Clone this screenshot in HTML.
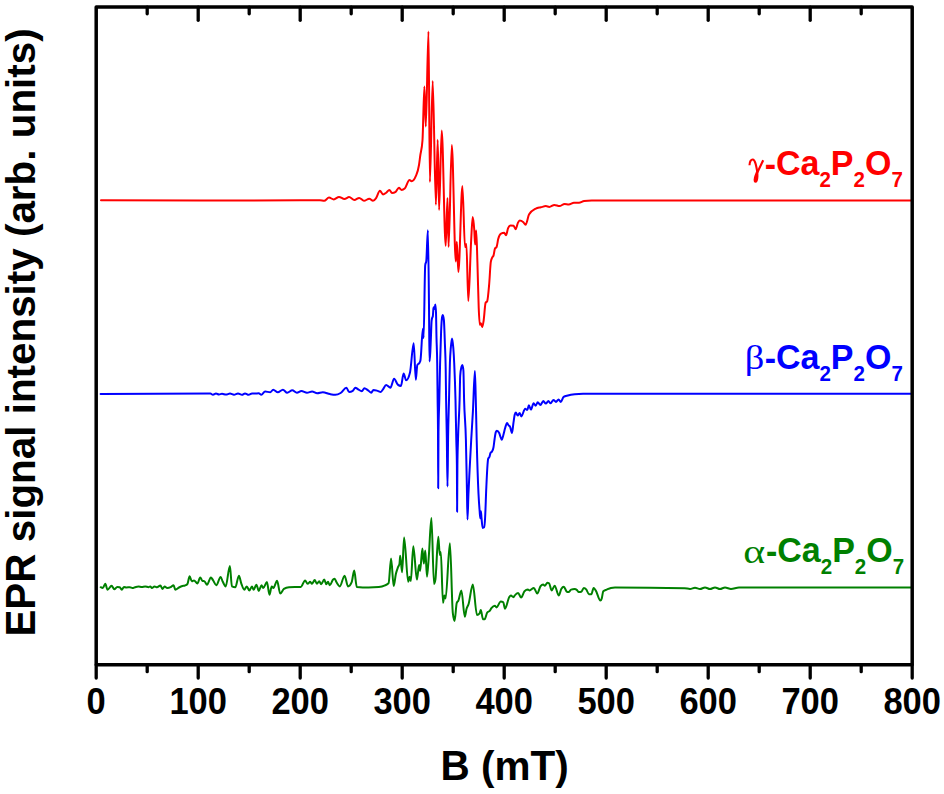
<!DOCTYPE html>
<html><head><meta charset="utf-8"><style>
html,body{margin:0;padding:0;background:#fff;}
body{width:944px;height:794px;overflow:hidden;font-family:"Liberation Sans",sans-serif;}
svg{display:block;}
</style></head><body>
<svg width="944" height="794" viewBox="0 0 944 794">
<rect width="944" height="794" fill="#fff"/>
<g fill="none" stroke-width="2.0" stroke-linejoin="round" stroke-linecap="round">
<path stroke="#ff0000" d="M101.00,200.30C134.00,200.40 167.00,200.50 200.00,200.50C233.33,200.50 266.67,200.30 300.00,200.30C306.67,200.30 313.33,200.30 320.00,200.30C321.40,200.30 322.80,200.80 324.20,200.80C325.80,200.80 327.40,197.60 329.00,197.60C330.60,197.60 332.20,199.40 333.80,199.40C335.53,199.40 337.27,196.90 339.00,196.90C340.80,196.90 342.60,199.00 344.40,199.00C345.97,199.00 347.53,197.10 349.10,197.10C350.87,197.10 352.63,200.00 354.40,200.00C356.00,200.00 357.60,197.90 359.20,197.90C360.80,197.90 362.40,200.80 364.00,200.80C365.77,200.80 367.53,198.70 369.30,198.70C370.53,198.70 371.77,200.80 373.00,200.80C374.03,200.80 375.07,199.50 376.10,198.10C377.37,196.38 378.63,190.70 379.90,190.70C380.93,190.70 381.97,194.40 383.00,194.40C384.07,194.40 385.13,193.55 386.20,192.80C387.27,192.05 388.33,189.90 389.40,189.90C390.27,189.90 391.13,193.00 392.00,193.00C393.23,193.00 394.47,192.60 395.70,191.80C396.77,191.11 397.83,187.80 398.90,187.80C399.80,187.80 400.70,189.90 401.60,189.90C402.63,189.90 403.67,189.47 404.70,188.60C406.30,187.26 407.90,180.10 409.50,180.10C410.20,180.10 410.90,181.20 411.60,181.20C413.03,181.20 414.47,179.43 415.90,175.90C416.93,173.35 417.97,171.60 419.00,165.00C419.40,162.44 419.80,158.91 420.20,156.00C420.97,150.42 421.73,150.73 422.50,140.20C423.13,131.50 423.77,86.50 424.40,86.50C424.87,86.50 425.33,126.50 425.80,126.50C426.70,126.50 427.60,31.40 428.50,31.40C428.97,31.40 429.43,182.00 429.90,182.00C430.83,182.00 431.77,81.00 432.70,81.00C433.77,81.00 434.83,204.70 435.90,204.70C436.50,204.70 437.10,139.80 437.70,139.80C438.17,139.80 438.63,210.00 439.10,210.00C439.97,210.00 440.83,130.60 441.70,130.60C443.03,130.60 444.37,245.70 445.70,245.70C446.30,245.70 446.90,198.00 447.50,198.00C447.87,198.00 448.23,247.00 448.60,247.00C449.67,247.00 450.73,145.10 451.80,145.10C453.13,145.10 454.47,261.50 455.80,261.50C456.13,261.50 456.47,241.70 456.80,241.70C457.33,241.70 457.87,272.00 458.40,272.00C459.73,272.00 461.07,186.10 462.40,186.10C463.27,186.10 464.13,247.00 465.00,247.00C465.47,247.00 465.93,244.00 466.40,244.00C467.03,244.00 467.67,301.00 468.30,301.00C469.23,301.00 470.17,257.64 471.10,241.40C471.63,232.12 472.17,217.10 472.70,217.10C473.23,217.10 473.77,222.61 474.30,230.40C474.57,234.29 474.83,244.60 475.10,244.60C475.47,244.60 475.83,230.40 476.20,230.40C476.60,230.40 477.00,249.71 477.40,261.90C477.83,275.11 478.27,296.84 478.70,307.50C479.07,316.52 479.43,324.80 479.80,324.80C480.17,324.80 480.53,323.20 480.90,323.20C481.33,323.20 481.77,327.10 482.20,327.10C482.70,327.10 483.20,323.41 483.70,320.10C484.33,315.90 484.97,304.07 485.60,302.80C486.13,301.73 486.67,302.27 487.20,301.20C487.87,299.87 488.53,291.56 489.20,283.90C489.73,277.78 490.27,265.03 490.80,261.90C491.33,258.77 491.87,258.30 492.40,257.20C492.77,256.45 493.13,256.64 493.50,255.60C494.00,254.18 494.50,249.44 495.00,248.50C495.53,247.50 496.07,248.00 496.60,247.00C497.13,246.00 497.67,241.16 498.20,239.10C499.13,235.50 500.07,234.07 501.00,233.60C502.07,233.07 503.13,232.80 504.20,232.80C504.80,232.80 505.40,235.20 506.00,235.20C506.70,235.20 507.40,229.68 508.10,228.10C508.90,226.30 509.70,225.40 510.50,225.40C511.53,225.40 512.57,225.50 513.60,225.70C514.27,225.83 514.93,229.20 515.60,229.20C516.40,229.20 517.20,224.09 518.00,222.60C518.57,221.54 519.13,220.50 519.70,220.50C520.83,220.50 521.97,220.97 523.10,221.90C523.93,222.58 524.77,224.70 525.60,224.70C526.73,224.70 527.87,216.60 529.00,214.60C531.27,210.60 533.53,209.78 535.80,208.60C537.47,207.73 539.13,207.71 540.80,207.30C542.50,206.88 544.20,206.10 545.90,206.10C547.03,206.10 548.17,206.90 549.30,206.90C551.00,206.90 552.70,204.90 554.40,204.90C556.10,204.90 557.80,206.10 559.50,206.10C561.20,206.10 562.90,203.90 564.60,203.90C566.00,203.90 567.40,204.40 568.80,204.40C570.50,204.40 572.20,202.70 573.90,202.70C575.60,202.70 577.30,202.70 579.00,202.70C580.70,202.70 582.40,201.22 584.10,201.00C586.63,200.67 589.17,200.50 591.70,200.50C698.13,200.50 804.57,200.50 911.00,200.50"/>
<path stroke="#0000ff" d="M100.60,394.10C137.20,393.85 173.80,393.60 210.40,393.60C211.27,393.60 212.13,394.80 213.00,394.80C214.00,394.80 215.00,393.50 216.00,393.50C217.00,393.50 218.00,394.50 219.00,394.50C220.00,394.50 221.00,393.80 222.00,393.80C223.33,393.80 224.67,394.60 226.00,394.60C227.33,394.60 228.67,393.60 230.00,393.60C231.33,393.60 232.67,394.70 234.00,394.70C235.33,394.70 236.67,393.50 238.00,393.50C239.33,393.50 240.67,394.80 242.00,394.80C243.00,394.80 244.00,393.40 245.00,393.40C246.20,393.40 247.40,394.80 248.60,394.80C249.73,394.80 250.87,393.50 252.00,393.50C253.00,393.50 254.00,393.60 255.00,393.60C256.23,393.60 257.47,393.30 258.70,393.30C259.57,393.30 260.43,394.80 261.30,394.80C262.57,394.80 263.83,391.50 265.10,391.50C266.80,391.50 268.50,392.30 270.20,392.30C271.20,392.30 272.20,389.70 273.20,389.70C274.73,389.70 276.27,392.30 277.80,392.30C279.50,392.30 281.20,389.70 282.90,389.70C284.33,389.70 285.77,392.80 287.20,392.80C288.90,392.80 290.60,390.30 292.30,390.30C293.83,390.30 295.37,392.80 296.90,392.80C298.40,392.80 299.90,391.00 301.40,391.00C303.27,391.00 305.13,392.80 307.00,392.80C308.70,392.80 310.40,391.50 312.10,391.50C313.80,391.50 315.50,393.30 317.20,393.30C319.07,393.30 320.93,392.30 322.80,392.30C325.17,392.30 327.53,393.67 329.90,394.10C331.70,394.43 333.50,394.80 335.30,394.80C337.07,394.80 338.83,394.08 340.60,393.00C342.53,391.81 344.47,387.70 346.40,387.70C347.30,387.70 348.20,392.00 349.10,392.00C350.33,392.00 351.57,391.63 352.80,390.90C353.67,390.38 354.53,387.70 355.40,387.70C356.30,387.70 357.20,388.80 358.10,389.30C359.33,389.99 360.57,391.20 361.80,391.20C362.67,391.20 363.53,388.30 364.40,388.30C365.63,388.30 366.87,389.60 368.10,390.40C369.17,391.09 370.23,392.70 371.30,392.70C372.00,392.70 372.70,389.90 373.40,389.90C374.83,389.90 376.27,390.46 377.70,390.90C378.73,391.21 379.77,392.00 380.80,392.00C381.53,392.00 382.27,390.26 383.00,389.30C384.03,387.95 385.07,384.90 386.10,384.90C387.53,384.90 388.97,387.70 390.40,387.70C391.63,387.70 392.87,378.70 394.10,378.70C395.33,378.70 396.57,383.60 397.80,384.60C398.87,385.47 399.93,385.90 401.00,385.90C401.87,385.90 402.73,373.40 403.60,373.40C404.43,373.40 405.27,380.30 406.10,380.30C407.40,380.30 408.70,377.67 410.00,372.40C411.23,367.40 412.47,343.20 413.70,343.20C414.40,343.20 415.10,379.80 415.80,379.80C416.30,379.80 416.80,366.15 417.30,365.10C418.03,363.57 418.77,364.33 419.50,362.80C419.83,362.10 420.17,361.87 420.50,360.00C421.30,355.52 422.10,328.80 422.90,328.80C423.13,328.80 423.37,337.90 423.60,337.90C424.13,337.90 424.67,269.66 425.20,265.30C425.57,262.30 425.93,263.80 426.30,260.80C426.83,256.44 427.37,230.20 427.90,230.20C428.27,230.20 428.63,270.26 429.00,306.10C429.17,322.39 429.33,361.50 429.50,361.50C429.77,361.50 430.03,356.96 430.30,352.00C430.50,348.28 430.70,342.56 430.90,337.80C431.13,332.24 431.37,323.33 431.60,321.00C431.83,318.67 432.07,318.29 432.30,317.50C432.47,316.94 432.63,317.13 432.80,316.40C433.03,315.37 433.27,308.67 433.50,308.00C433.73,307.33 433.97,307.00 434.20,307.00C434.33,307.00 434.47,309.00 434.60,309.00C434.83,309.00 435.07,304.40 435.30,304.40C435.53,304.40 435.77,307.13 436.00,312.60C436.17,316.50 436.33,330.40 436.50,337.80C436.73,348.16 436.97,346.95 437.20,363.00C437.33,372.17 437.47,386.50 437.60,398.00C437.73,409.50 437.87,409.33 438.00,432.00C438.07,443.33 438.13,488.20 438.20,488.20C438.30,488.20 438.40,440.00 438.50,432.00C438.77,410.67 439.03,411.50 439.30,400.00C439.57,388.50 439.83,373.59 440.10,363.00C440.43,349.77 440.77,339.18 441.10,331.50C441.40,324.59 441.70,319.62 442.00,317.60C442.27,315.80 442.53,314.90 442.80,314.90C443.17,314.90 443.53,316.67 443.90,320.20C444.23,323.41 444.57,334.62 444.90,344.00C445.17,351.51 445.43,352.84 445.70,369.30C445.83,377.53 445.97,390.93 446.10,400.00C446.33,415.88 446.57,422.58 446.80,437.00C447.03,451.42 447.27,486.50 447.50,486.50C447.70,486.50 447.90,450.19 448.10,437.00C448.40,417.22 448.70,412.33 449.00,400.00C449.30,387.67 449.60,371.68 449.90,363.00C450.20,354.32 450.50,351.79 450.80,347.90C451.20,342.71 451.60,338.40 452.00,338.40C452.43,338.40 452.87,342.31 453.30,347.90C453.60,351.77 453.90,356.53 454.20,363.00C454.63,372.34 455.07,381.89 455.50,400.00C455.77,411.15 456.03,427.68 456.30,440.00C456.50,449.24 456.70,448.67 456.90,466.00C456.97,471.78 457.03,511.80 457.10,511.80C457.20,511.80 457.30,474.67 457.40,466.00C457.60,448.67 457.80,447.67 458.00,440.00C458.53,419.56 459.07,419.41 459.60,400.00C459.80,392.72 460.00,378.31 460.20,375.60C460.63,369.73 461.07,368.54 461.50,366.80C461.80,365.59 462.10,364.90 462.40,364.90C462.73,364.90 463.07,366.77 463.40,370.50C463.63,373.11 463.87,391.47 464.10,400.00C464.70,421.94 465.30,416.72 465.90,440.00C466.23,452.93 466.57,471.06 466.90,488.00C467.10,498.16 467.30,519.50 467.50,519.50C467.80,519.50 468.10,502.35 468.40,495.00C468.80,485.21 469.20,477.98 469.60,470.00C470.13,459.37 470.67,449.47 471.20,440.00C471.77,429.94 472.33,422.00 472.90,411.60C473.57,399.36 474.23,371.00 474.90,371.00C475.20,371.00 475.50,388.50 475.80,400.00C476.10,411.50 476.40,428.12 476.70,440.00C477.30,463.76 477.90,481.23 478.50,493.80C478.90,502.18 479.30,506.91 479.70,511.80C479.90,514.24 480.10,518.30 480.30,518.30C480.50,518.30 480.70,511.20 480.90,511.20C481.10,511.20 481.30,515.77 481.50,517.80C481.90,521.86 482.30,527.90 482.70,527.90C483.20,527.90 483.70,527.70 484.20,527.30C484.50,527.06 484.80,522.82 485.10,517.80C485.50,511.10 485.90,496.60 486.30,487.80C486.70,479.00 487.10,470.07 487.50,465.00C487.73,462.04 487.97,459.34 488.20,458.70C488.57,457.70 488.93,458.07 489.30,457.20C489.70,456.25 490.10,453.80 490.50,453.00C491.00,452.00 491.50,452.45 492.00,451.50C492.50,450.55 493.00,450.07 493.50,447.30C493.87,445.27 494.23,441.44 494.60,439.00C495.00,436.34 495.40,433.29 495.80,432.20C496.17,431.20 496.53,430.70 496.90,430.70C497.67,430.70 498.43,431.47 499.20,433.00C499.70,434.00 500.20,436.26 500.70,437.50C501.07,438.41 501.43,439.80 501.80,439.80C502.30,439.80 502.80,436.93 503.30,435.20C503.93,433.01 504.57,429.72 505.20,427.70C505.83,425.68 506.47,423.10 507.10,423.10C507.60,423.10 508.10,424.77 508.60,425.40C509.10,426.03 509.60,425.91 510.10,426.90C510.73,428.15 511.37,433.00 512.00,433.00C512.50,433.00 513.00,425.73 513.50,422.40C513.90,419.74 514.30,416.40 514.70,414.80C515.07,413.33 515.43,412.60 515.80,412.60C516.43,412.60 517.07,415.60 517.70,415.60C518.33,415.60 518.97,413.00 519.60,413.00C520.17,413.00 520.73,416.40 521.30,416.40C522.60,416.40 523.90,408.70 525.20,408.70C525.87,408.70 526.53,410.10 527.20,410.10C527.77,410.10 528.33,405.30 528.90,405.30C529.57,405.30 530.23,409.60 530.90,409.60C531.80,409.60 532.70,403.30 533.60,403.30C534.30,403.30 535.00,405.70 535.70,405.70C536.37,405.70 537.03,402.30 537.70,402.30C538.60,402.30 539.50,405.00 540.40,405.00C541.37,405.00 542.33,401.10 543.30,401.10C544.13,401.10 544.97,403.60 545.80,403.60C546.67,403.60 547.53,401.10 548.40,401.10C549.13,401.10 549.87,403.30 550.60,403.30C551.57,403.30 552.53,399.90 553.50,399.90C554.33,399.90 555.17,401.90 556.00,401.90C556.87,401.90 557.73,399.40 558.60,399.40C559.33,399.40 560.07,401.90 560.80,401.90C561.73,401.90 562.67,397.51 563.60,396.90C565.03,395.97 566.47,395.88 567.90,395.50C570.17,394.89 572.43,394.57 574.70,394.30C577.50,393.97 580.30,393.80 583.10,393.80C692.40,393.73 801.70,393.72 911.00,393.70"/>
<path stroke="#008000" d="M100.70,587.20C101.40,587.60 102.10,588.00 102.80,588.00C103.63,588.00 104.47,583.80 105.30,583.80C106.03,583.80 106.77,589.70 107.50,589.70C108.87,589.70 110.23,585.80 111.60,585.80C112.50,585.80 113.40,589.20 114.30,589.20C115.27,589.20 116.23,586.90 117.20,586.90C118.03,586.90 118.87,587.00 119.70,587.20C120.40,587.37 121.10,589.70 121.80,589.70C122.53,589.70 123.27,586.90 124.00,586.90C124.83,586.90 125.67,587.50 126.50,587.50C127.63,587.50 128.77,587.20 129.90,587.20C130.77,587.20 131.63,588.00 132.50,588.00C133.33,588.00 134.17,587.44 135.00,587.20C136.13,586.88 137.27,586.40 138.40,586.40C139.53,586.40 140.67,586.90 141.80,586.90C142.93,586.90 144.07,586.40 145.20,586.40C146.30,586.40 147.40,587.20 148.50,587.20C149.07,587.20 149.63,586.40 150.20,586.40C150.77,586.40 151.33,588.00 151.90,588.00C152.77,588.00 153.63,586.40 154.50,586.40C155.33,586.40 156.17,587.20 157.00,587.20C158.13,587.20 159.27,585.50 160.40,585.50C161.07,585.50 161.73,588.90 162.40,588.90C163.13,588.90 163.87,586.40 164.60,586.40C165.47,586.40 166.33,588.00 167.20,588.00C168.33,588.00 169.47,587.73 170.60,587.20C171.60,586.74 172.60,585.20 173.60,585.20C174.17,585.20 174.73,589.70 175.30,589.70C176.53,589.70 177.77,588.13 179.00,587.50C180.13,586.92 181.27,586.34 182.40,586.00C183.27,585.74 184.13,585.83 185.00,585.50C185.83,585.18 186.67,584.93 187.50,583.80C188.20,582.85 188.90,576.20 189.60,576.20C190.33,576.20 191.07,581.30 191.80,581.30C192.53,581.30 193.27,580.40 194.00,580.40C195.13,580.40 196.27,583.50 197.40,583.50C198.33,583.50 199.27,577.40 200.20,577.40C200.93,577.40 201.67,580.45 202.40,580.80C203.10,581.13 203.80,580.97 204.50,581.30C205.33,581.70 206.17,584.70 207.00,584.70C208.30,584.70 209.60,577.50 210.90,577.50C211.60,577.50 212.30,579.15 213.00,580.10C214.10,581.59 215.20,585.20 216.30,585.20C217.73,585.20 219.17,577.00 220.60,577.00C221.33,577.00 222.07,580.39 222.80,581.80C223.77,583.66 224.73,586.40 225.70,586.40C227.10,586.40 228.50,566.00 229.90,566.00C230.57,566.00 231.23,586.09 231.90,586.40C233.03,586.93 234.17,587.20 235.30,587.20C236.50,587.20 237.70,575.70 238.90,575.70C239.73,575.70 240.57,581.57 241.40,583.80C242.37,586.39 243.33,589.70 244.30,589.70C245.13,589.70 245.97,586.40 246.80,586.40C247.67,586.40 248.53,590.60 249.40,590.60C250.23,590.60 251.07,586.40 251.90,586.40C252.50,586.40 253.10,589.70 253.70,589.70C254.60,589.70 255.50,584.70 256.40,584.70C257.20,584.70 258.00,590.90 258.80,590.90C259.70,590.90 260.60,585.20 261.50,585.20C262.07,585.20 262.63,588.00 263.20,588.00C264.43,588.00 265.67,582.10 266.90,582.10C267.77,582.10 268.63,594.80 269.50,594.80C270.23,594.80 270.97,586.40 271.70,586.40C272.27,586.40 272.83,588.00 273.40,588.00C274.63,588.00 275.87,580.80 277.10,580.80C278.13,580.80 279.17,593.60 280.20,593.60C281.43,593.60 282.67,589.72 283.90,588.90C285.60,587.77 287.30,587.29 289.00,587.20C292.93,587.00 296.87,587.10 300.80,586.90C302.23,586.83 303.67,580.40 305.10,580.40C305.93,580.40 306.77,583.80 307.60,583.80C308.47,583.80 309.33,581.80 310.20,581.80C310.77,581.80 311.33,583.80 311.90,583.80C312.83,583.80 313.77,580.10 314.70,580.10C315.43,580.10 316.17,583.80 316.90,583.80C317.67,583.80 318.43,581.30 319.20,581.30C319.87,581.30 320.53,584.20 321.20,584.20C322.20,584.20 323.20,579.60 324.20,579.60C324.90,579.60 325.60,584.20 326.30,584.20C326.87,584.20 327.43,581.80 328.00,581.80C328.57,581.80 329.13,585.20 329.70,585.20C330.83,585.20 331.97,580.63 333.10,579.60C333.63,579.11 334.17,578.70 334.70,578.70C335.27,578.70 335.83,581.11 336.40,582.10C337.53,584.09 338.67,586.40 339.80,586.40C341.40,586.40 343.00,575.70 344.60,575.70C345.73,575.70 346.87,586.40 348.00,586.40C349.23,586.40 350.47,584.97 351.70,582.10C352.53,580.16 353.37,570.60 354.20,570.60C355.07,570.60 355.93,586.93 356.80,587.00C360.73,587.33 364.67,587.50 368.60,587.50C372.00,587.50 375.40,587.37 378.80,587.10C380.87,586.94 382.93,586.41 385.00,585.40C386.20,584.82 387.40,584.67 388.60,583.20C389.43,582.18 390.27,558.60 391.10,558.60C391.97,558.60 392.83,586.10 393.70,586.10C394.43,586.10 395.17,576.98 395.90,573.80C396.60,570.76 397.30,569.10 398.00,567.20C398.50,565.85 399.00,566.00 399.50,563.60C399.73,562.48 399.97,555.70 400.20,555.70C400.83,555.70 401.47,572.30 402.10,572.30C402.77,572.30 403.43,537.50 404.10,537.50C405.47,537.50 406.83,581.70 408.20,581.70C408.67,581.70 409.13,576.70 409.60,576.70C410.00,576.70 410.40,581.00 410.80,581.00C411.63,581.00 412.47,546.20 413.30,546.20C414.50,546.20 415.70,579.60 416.90,579.60C417.63,579.60 418.37,565.10 419.10,565.10C419.43,565.10 419.77,570.90 420.10,570.90C420.87,570.90 421.63,548.40 422.40,548.40C422.87,548.40 423.33,563.60 423.80,563.60C424.30,563.60 424.80,550.60 425.30,550.60C425.87,550.60 426.43,576.70 427.00,576.70C427.60,576.70 428.20,564.02 428.80,556.40C429.67,545.39 430.53,518.00 431.40,518.00C432.27,518.00 433.13,583.90 434.00,583.90C434.47,583.90 434.93,582.47 435.40,579.60C436.37,573.66 437.33,536.80 438.30,536.80C438.80,536.80 439.30,554.90 439.80,554.90C440.13,554.90 440.47,552.00 440.80,552.00C441.53,552.00 442.27,602.80 443.00,602.80C443.47,602.80 443.93,595.50 444.40,595.50C444.80,595.50 445.20,598.40 445.60,598.40C447.03,598.40 448.47,543.30 449.90,543.30C450.87,543.30 451.83,604.31 452.80,612.90C453.40,618.23 454.00,620.90 454.60,620.90C455.30,620.90 456.00,605.16 456.70,603.10C457.27,601.43 457.83,601.83 458.40,600.60C459.40,598.43 460.40,590.40 461.40,590.40C462.53,590.40 463.67,616.70 464.80,616.70C465.37,616.70 465.93,611.12 466.50,609.10C467.20,606.61 467.90,606.22 468.60,604.00C470.00,599.57 471.40,584.50 472.80,584.50C474.20,584.50 475.60,615.00 477.00,615.00C477.87,615.00 478.73,614.43 479.60,613.30C480.00,612.78 480.40,609.90 480.80,609.90C481.53,609.90 482.27,619.20 483.00,619.20C483.57,619.20 484.13,619.20 484.70,619.20C485.53,619.20 486.37,613.63 487.20,612.50C488.03,611.37 488.87,611.79 489.70,610.80C490.27,610.13 490.83,608.92 491.40,608.20C492.53,606.77 493.67,605.70 494.80,605.70C495.37,605.70 495.93,607.40 496.50,607.40C497.93,607.40 499.37,601.40 500.80,601.40C501.63,601.40 502.47,601.70 503.30,602.30C503.87,602.71 504.43,608.70 505.00,608.70C506.40,608.70 507.80,599.30 509.20,597.20C509.77,596.35 510.33,595.50 510.90,595.50C511.77,595.50 512.63,597.20 513.50,597.20C513.90,597.20 514.30,596.00 514.70,595.50C515.83,594.10 516.97,593.00 518.10,593.00C519.10,593.00 520.10,597.50 521.10,597.50C522.23,597.50 523.37,592.43 524.50,591.30C525.63,590.17 526.77,589.60 527.90,589.60C528.47,589.60 529.03,590.40 529.60,590.40C530.03,590.40 530.47,589.86 530.90,589.60C531.87,589.01 532.83,587.90 533.80,587.90C534.93,587.90 536.07,593.50 537.20,593.50C538.33,593.50 539.47,587.68 540.60,586.20C541.43,585.12 542.27,584.50 543.10,584.50C543.67,584.50 544.23,585.70 544.80,585.70C545.67,585.70 546.53,582.80 547.40,582.80C547.97,582.80 548.53,582.97 549.10,583.30C549.93,583.79 550.77,590.40 551.60,590.40C552.63,590.40 553.67,585.70 554.70,585.70C556.03,585.70 557.37,595.50 558.70,595.50C559.60,595.50 560.50,590.16 561.40,588.70C562.20,587.40 563.00,586.70 563.80,586.70C564.83,586.70 565.87,591.44 566.90,591.80C567.47,592.00 568.03,592.10 568.60,592.10C569.43,592.10 570.27,589.85 571.10,589.60C572.23,589.27 573.37,589.10 574.50,589.10C575.33,589.10 576.17,589.43 577.00,590.10C577.57,590.55 578.13,592.10 578.70,592.10C579.57,592.10 580.43,592.00 581.30,591.80C582.13,591.61 582.97,587.90 583.80,587.90C584.67,587.90 585.53,588.51 586.40,589.60C587.23,590.65 588.07,594.20 588.90,594.20C589.73,594.20 590.57,594.20 591.40,594.20C592.13,594.20 592.87,587.90 593.60,587.90C594.30,587.90 595.00,589.35 595.70,590.40C597.27,592.74 598.83,600.60 600.40,600.60C600.83,600.60 601.27,599.95 601.70,598.70C602.23,597.16 602.77,591.83 603.30,591.30C604.43,590.17 605.57,590.12 606.70,589.60C608.10,588.96 609.50,588.17 610.90,587.90C612.27,587.63 613.63,587.50 615.00,587.50C638.23,587.50 661.47,587.73 684.70,588.20C686.47,588.24 688.23,589.00 690.00,589.00C691.67,589.00 693.33,587.80 695.00,587.80C696.67,587.80 698.33,589.00 700.00,589.00C701.67,589.00 703.33,587.50 705.00,587.50C706.67,587.50 708.33,589.00 710.00,589.00C711.67,589.00 713.33,587.50 715.00,587.50C716.67,587.50 718.33,589.00 720.00,589.00C721.67,589.00 723.33,587.50 725.00,587.50C727.00,587.50 729.00,589.00 731.00,589.00C733.67,589.00 736.33,587.50 739.00,587.50C796.33,587.50 853.67,587.50 911.00,587.50"/>
</g>
<g stroke="#000" stroke-width="3.3" stroke-linecap="round">
<line x1="96.20" y1="664.85" x2="96.20" y2="678.05"/><line x1="147.20" y1="664.85" x2="147.20" y2="671.65"/><line x1="147.20" y1="7.05" x2="147.20" y2="13.85"/><line x1="198.20" y1="664.85" x2="198.20" y2="678.05"/><line x1="198.20" y1="7.05" x2="198.20" y2="20.25"/><line x1="249.20" y1="664.85" x2="249.20" y2="671.65"/><line x1="249.20" y1="7.05" x2="249.20" y2="13.85"/><line x1="300.20" y1="664.85" x2="300.20" y2="678.05"/><line x1="300.20" y1="7.05" x2="300.20" y2="20.25"/><line x1="351.20" y1="664.85" x2="351.20" y2="671.65"/><line x1="351.20" y1="7.05" x2="351.20" y2="13.85"/><line x1="402.20" y1="664.85" x2="402.20" y2="678.05"/><line x1="402.20" y1="7.05" x2="402.20" y2="20.25"/><line x1="453.20" y1="664.85" x2="453.20" y2="671.65"/><line x1="453.20" y1="7.05" x2="453.20" y2="13.85"/><line x1="504.20" y1="664.85" x2="504.20" y2="678.05"/><line x1="504.20" y1="7.05" x2="504.20" y2="20.25"/><line x1="555.20" y1="664.85" x2="555.20" y2="671.65"/><line x1="555.20" y1="7.05" x2="555.20" y2="13.85"/><line x1="606.20" y1="664.85" x2="606.20" y2="678.05"/><line x1="606.20" y1="7.05" x2="606.20" y2="20.25"/><line x1="657.20" y1="664.85" x2="657.20" y2="671.65"/><line x1="657.20" y1="7.05" x2="657.20" y2="13.85"/><line x1="708.20" y1="664.85" x2="708.20" y2="678.05"/><line x1="708.20" y1="7.05" x2="708.20" y2="20.25"/><line x1="759.20" y1="664.85" x2="759.20" y2="671.65"/><line x1="759.20" y1="7.05" x2="759.20" y2="13.85"/><line x1="810.20" y1="664.85" x2="810.20" y2="678.05"/><line x1="810.20" y1="7.05" x2="810.20" y2="20.25"/><line x1="861.20" y1="664.85" x2="861.20" y2="671.65"/><line x1="861.20" y1="7.05" x2="861.20" y2="13.85"/><line x1="912.20" y1="664.85" x2="912.20" y2="678.05"/>
</g>
<rect x="96.2" y="7.05" width="816.0" height="657.8000000000001" fill="none" stroke="#000" stroke-width="3.5" stroke-linejoin="round"/>
<g font-family="Liberation Sans" font-weight="bold" font-size="34.5" fill="#000">
<text transform="translate(96.20,714.2) scale(1,1.055)" text-anchor="middle">0</text><text transform="translate(198.20,714.2) scale(1,1.055)" text-anchor="middle">100</text><text transform="translate(300.20,714.2) scale(1,1.055)" text-anchor="middle">200</text><text transform="translate(402.20,714.2) scale(1,1.055)" text-anchor="middle">300</text><text transform="translate(504.20,714.2) scale(1,1.055)" text-anchor="middle">400</text><text transform="translate(606.20,714.2) scale(1,1.055)" text-anchor="middle">500</text><text transform="translate(708.20,714.2) scale(1,1.055)" text-anchor="middle">600</text><text transform="translate(810.20,714.2) scale(1,1.055)" text-anchor="middle">700</text><text transform="translate(912.20,714.2) scale(1,1.055)" text-anchor="middle">800</text>
</g>
<g font-family="Liberation Sans" font-weight="bold" font-size="40.5"><text transform="translate(440.59,779.6) scale(1,1.045)">B</text><text x="481.09" y="779.6">(m</text><text transform="translate(530.58,779.6) scale(1,1.045)">T</text><text x="555.33" y="779.6">)</text></g>
<g transform="translate(35.3,636.56) rotate(-90)" font-family="Liberation Sans" font-weight="bold" font-size="40.4"><text transform="scale(1,1.045)">EPR</text><text x="94.29" y="0">signal intensity (arb. units)</text></g>
<g font-family="Liberation Sans">
<text transform="translate(902.8,175.0) scale(1,1.05)" text-anchor="end" fill="#ff0000" font-size="34" font-weight="bold"><tspan dy="0.95">-</tspan><tspan dy="-0.95">Ca</tspan><tspan font-size="20.5" dy="11.43">2</tspan><tspan dy="-11.43">P</tspan><tspan font-size="20.5" dy="11.43">2</tspan><tspan dy="-11.43">O</tspan><tspan font-size="20.5" dy="11.43">7</tspan></text><g fill="none" stroke="#ff0000" stroke-linecap="butt"><path d="M749.5,165.3 C749.5,161.2 751.2,159.4 752.8,159.5 C755.0,159.7 756.0,164.5 757.4,172.2" stroke-width="2.1"/><path d="M763.2,160.2 L757.3,172.6" stroke-width="2.2"/></g><path fill="#ff0000" d="M756.2,171.2 L758.2,171.2 C758.8,175.5 758.6,182.7 755.6,182.7 C752.6,182.7 753.2,177.8 756.2,171.2 Z"/>
<text transform="translate(902.8,369.3) scale(1,1.05)" text-anchor="end" fill="#0000ff" font-size="34" font-weight="bold"><tspan dy="0.95">-</tspan><tspan dy="-0.95">Ca</tspan><tspan font-size="20.5" dy="11.43">2</tspan><tspan dy="-11.43">P</tspan><tspan font-size="20.5" dy="11.43">2</tspan><tspan dy="-11.43">O</tspan><tspan font-size="20.5" dy="11.43">7</tspan></text><text transform="translate(744.7880200000001,369.4) scale(1.13,1)" font-family="Liberation Serif" font-size="34.1" fill="#0000ff">β</text>
<text transform="translate(904.1,562.4) scale(1,1.05)" text-anchor="end" fill="#008000" font-size="34" font-weight="bold"><tspan dy="0.95">-</tspan><tspan dy="-0.95">Ca</tspan><tspan font-size="20.5" dy="11.43">2</tspan><tspan dy="-11.43">P</tspan><tspan font-size="20.5" dy="11.43">2</tspan><tspan dy="-11.43">O</tspan><tspan font-size="20.5" dy="11.43">7</tspan></text><text transform="translate(743.3310399999999,562.6) scale(1.22,1)" font-family="Liberation Serif" font-size="34.2" fill="#008000">α</text>
</g>
</svg>
</body></html>
